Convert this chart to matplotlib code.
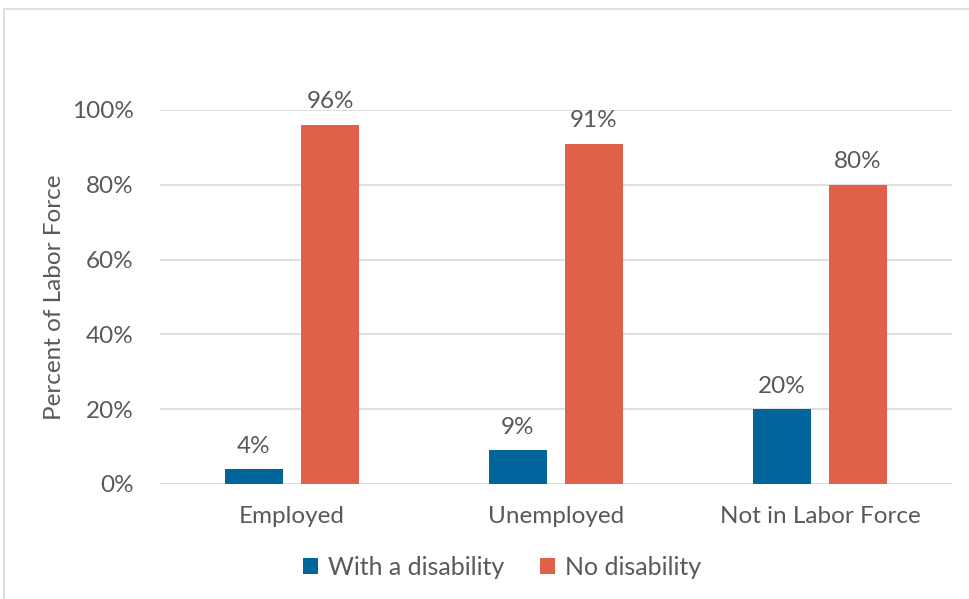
import numpy as np
import matplotlib.pyplot as plt
import matplotlib.patches as patches
from matplotlib.ticker import FuncFormatter

categories = ['Employed', 'Unemployed', 'Not in Labor Force']
with_disability = [4, 9, 20]
no_disability = [96, 91, 80]
series_names = ['With a disability', 'No disability']
colors = ['#00659A', '#E0604A']

plt.rcParams['font.family'] = ['Lato', 'DejaVu Sans']
text_color = '#595959'
fs = 17.5

fig = plt.figure(figsize=(9.69, 5.99), dpi=100)
ax = fig.add_axes([160 / 969, 1 - 484 / 599, 792 / 969, 374 / 599])

# outer chart frame
frame = patches.Rectangle((4 / 969, -0.05), 1.0, 1 - 9 / 599 + 0.05,
                          transform=fig.transFigure, fill=False,
                          edgecolor='#d9d9d9', lw=1.2)
fig.patches.append(frame)

x = np.arange(len(categories))
w = 0.223
off = 0.144
b1 = ax.bar(x - off, with_disability, w, color=colors[0], label=series_names[0])
b2 = ax.bar(x + off, no_disability, w, color=colors[1], label=series_names[1])

for bars, vals in ((b1, with_disability), (b2, no_disability)):
    for rect, v in zip(bars, vals):
        ax.annotate(f'{v}%', (rect.get_x() + rect.get_width() / 2, v),
                    xytext=(0, 9), textcoords='offset points',
                    ha='center', va='bottom', fontsize=fs, color=text_color,
                    annotation_clip=False)

ax.set_xlim(-0.5, 2.5)
ax.set_ylim(0, 100)
ax.set_yticks(np.arange(0, 101, 20))
ax.yaxis.set_major_formatter(FuncFormatter(lambda v, p: f'{v:.0f}%'))
ax.set_xticks(x)
ax.set_xticklabels(categories)
ax.tick_params(axis='both', length=0, labelsize=fs, colors=text_color)
ax.tick_params(axis='y', pad=19)
ax.tick_params(axis='x', pad=16)
ax.grid(axis='y', color='#d9d9d9', lw=1.2)
ax.set_axisbelow(True)
for s in ax.spines.values():
    s.set_visible(False)

ax.set_ylabel('Percent of Labor Force', fontsize=fs, color=text_color, labelpad=5)

# legend sits a bit left of the plot centre, as in the original
ax.legend(loc='center', bbox_to_anchor=(0.432, -0.222), ncol=2, frameon=False,
          fontsize=18, labelcolor=text_color, handlelength=0.6, handleheight=0.6,
          handletextpad=0.4, columnspacing=1.4)

plt.savefig('out.png', dpi=100)
